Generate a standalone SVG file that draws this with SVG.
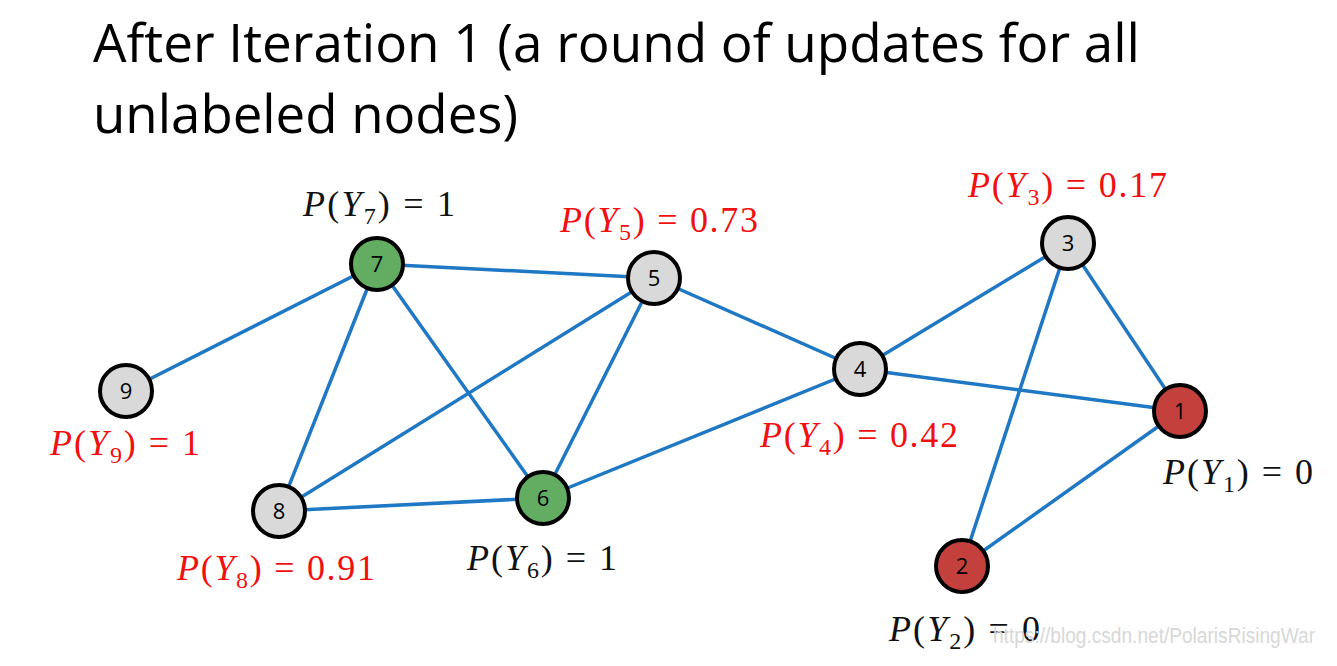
<svg xmlns="http://www.w3.org/2000/svg" width="1337" height="666" viewBox="0 0 1337 666">
<style>
.title{font-family:"Open Sans","Liberation Sans",sans-serif;font-size:53px;fill:#000}
.edge{stroke:#1f78c4;stroke-width:3.5;fill:none}
.node{stroke:#000;stroke-width:4}
.gray{fill:#d9d9d9}
.green{fill:#62ad62}
.red{fill:#c4403d}
.num{font-family:"Open Sans","Liberation Sans",sans-serif;font-size:22px;fill:#000;text-anchor:middle}
.math{font-family:"Liberation Serif","DejaVu Serif",serif;font-size:36px}
.it{font-style:italic}
.sub{font-size:24px}
.blk{fill:#111}
.rd{fill:#f01010}
.wm{font-family:"Liberation Sans",sans-serif;font-size:22px;fill:#d8d8d8}
</style>
<rect width="1337" height="666" fill="#fff"/>
<text class="title" x="93" y="62" textLength="1047" lengthAdjust="spacingAndGlyphs">After Iteration 1 (a round of updates for all</text>
<text class="title" x="93" y="133" textLength="425" lengthAdjust="spacingAndGlyphs">unlabeled nodes)</text>
<g id="connectors">
<line class="edge" x1="377" y1="264" x2="126" y2="391"/>
<line class="edge" x1="377" y1="264" x2="654" y2="278"/>
<line class="edge" x1="377" y1="264" x2="279" y2="511"/>
<line class="edge" x1="377" y1="264" x2="543" y2="498"/>
<line class="edge" x1="654" y1="278" x2="279" y2="511"/>
<line class="edge" x1="654" y1="278" x2="543" y2="498"/>
<line class="edge" x1="654" y1="278" x2="860" y2="369"/>
<line class="edge" x1="279" y1="511" x2="543" y2="498"/>
<line class="edge" x1="543" y1="498" x2="860" y2="369"/>
<line class="edge" x1="860" y1="369" x2="1068" y2="243"/>
<line class="edge" x1="860" y1="369" x2="1180" y2="411"/>
<line class="edge" x1="1068" y1="243" x2="1180" y2="411"/>
<line class="edge" x1="1068" y1="243" x2="962" y2="566"/>
<line class="edge" x1="962" y1="566" x2="1180" y2="411"/>
</g>
<g id="node7"><circle class="node green" cx="377" cy="264" r="26"/><text class="num" x="377" y="272">7</text>
<text class="math blk" x="303" y="216" textLength="152" lengthAdjust="spacing"><tspan class="it">P</tspan>(<tspan class="it">Y</tspan><tspan class="sub" dy="8">7</tspan><tspan dy="-8">) = 1</tspan></text></g>
<g id="node5"><circle class="node gray" cx="654" cy="278" r="26"/><text class="num" x="654" y="286">5</text>
<text class="math rd" x="560" y="232" textLength="198" lengthAdjust="spacing"><tspan class="it">P</tspan>(<tspan class="it">Y</tspan><tspan class="sub" dy="8">5</tspan><tspan dy="-8">) = 0.73</tspan></text></g>
<g id="node3"><circle class="node gray" cx="1068" cy="243" r="26"/><text class="num" x="1068" y="251">3</text>
<text class="math rd" x="968" y="197" textLength="199" lengthAdjust="spacing"><tspan class="it">P</tspan>(<tspan class="it">Y</tspan><tspan class="sub" dy="8">3</tspan><tspan dy="-8">) = 0.17</tspan></text></g>
<g id="node9"><circle class="node gray" cx="126" cy="391" r="26"/><text class="num" x="126" y="399">9</text>
<text class="math rd" x="50" y="455" textLength="150" lengthAdjust="spacing"><tspan class="it">P</tspan>(<tspan class="it">Y</tspan><tspan class="sub" dy="8">9</tspan><tspan dy="-8">) = 1</tspan></text></g>
<g id="node4"><circle class="node gray" cx="860" cy="369" r="26"/><text class="num" x="860" y="377">4</text>
<text class="math rd" x="760" y="447" textLength="198" lengthAdjust="spacing"><tspan class="it">P</tspan>(<tspan class="it">Y</tspan><tspan class="sub" dy="8">4</tspan><tspan dy="-8">) = 0.42</tspan></text></g>
<g id="node1"><circle class="node red" cx="1180" cy="411" r="26"/><text class="num" x="1180" y="419">1</text>
<text class="math blk" x="1163" y="484" textLength="150" lengthAdjust="spacing"><tspan class="it">P</tspan>(<tspan class="it">Y</tspan><tspan class="sub" dy="8">1</tspan><tspan dy="-8">) = 0</tspan></text></g>
<g id="node8"><circle class="node gray" cx="279" cy="511" r="26"/><text class="num" x="279" y="519">8</text>
<text class="math rd" x="177" y="580" textLength="198" lengthAdjust="spacing"><tspan class="it">P</tspan>(<tspan class="it">Y</tspan><tspan class="sub" dy="8">8</tspan><tspan dy="-8">) = 0.91</tspan></text></g>
<g id="node6"><circle class="node green" cx="543" cy="498" r="26"/><text class="num" x="543" y="506">6</text>
<text class="math blk" x="467" y="570" textLength="150" lengthAdjust="spacing"><tspan class="it">P</tspan>(<tspan class="it">Y</tspan><tspan class="sub" dy="8">6</tspan><tspan dy="-8">) = 1</tspan></text></g>
<g id="node2"><circle class="node red" cx="962" cy="566" r="26"/><text class="num" x="962" y="574">2</text>
<text class="math blk" x="889" y="641" textLength="151" lengthAdjust="spacing"><tspan class="it">P</tspan>(<tspan class="it">Y</tspan><tspan class="sub" dy="8">2</tspan><tspan dy="-8">) = 0</tspan></text></g>
<text class="wm" x="993" y="643" textLength="322" lengthAdjust="spacingAndGlyphs">https://blog.csdn.net/PolarisRisingWar</text>
</svg>
